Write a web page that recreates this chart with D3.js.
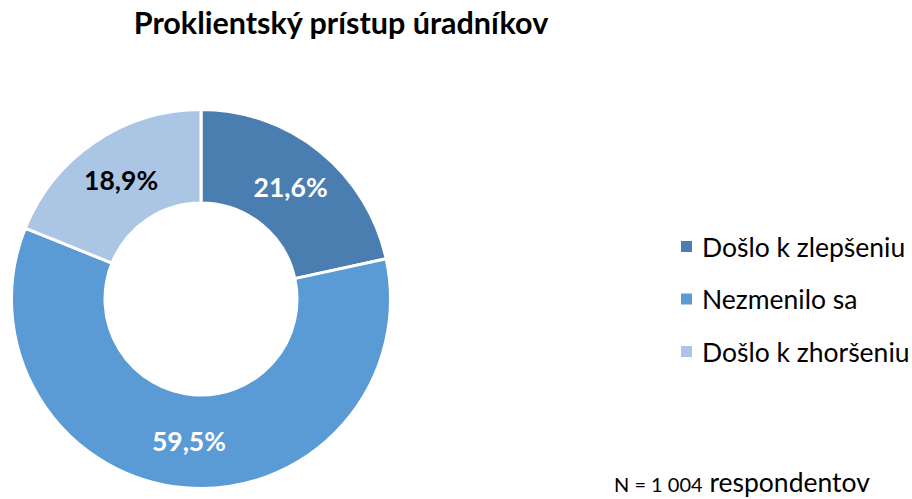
<!DOCTYPE html>
<html>
<head>
<meta charset="utf-8">
<script src="https://cdn.jsdelivr.net/npm/d3@7"></script>
<style>
  body { margin: 0; background: #fff; }
  text { font-family: Lato, "Open Sans", sans-serif; }
</style>
</head>
<body>
<div class="chart"></div>
<script>
// data
const categories = ["Došlo k zlepšeniu", "Nezmenilo sa", "Došlo k zhoršeniu"];
const values = [21.6, 59.5, 18.9];
const colors = ["#4a7eb0", "#5b9bd5", "#abc5e5"];
const labelColors = ["#ffffff", "#ffffff", "#000000"];
const title = "Proklientský prístup úradníkov";
const note = ["N = 1 004", " respondentov"];

const width = 912, height = 499;
const cx = 201, cy = 299;
const outerR = 189.5, innerR = 96;

const svg = d3.select(".chart")
  .append("svg")
  .attr("width", width)
  .attr("height", height);

// title
svg.append("text")
  .attr("x", 341)
  .attr("y", 34)
  .attr("text-anchor", "middle")
  .attr("font-weight", "bold")
  .attr("font-size", 30.5)
  .attr("fill", "#000")
  .text(title);

const data = categories.map((c, i) => ({name: c, value: values[i], color: colors[i], lc: labelColors[i]}));

const pie = d3.pie().sort(null).value(d => d.value);
const arc = d3.arc().innerRadius(innerR).outerRadius(outerR);

const g = svg.append("g").attr("transform", `translate(${cx},${cy})`);

const arcs = pie(data);

g.selectAll("path")
  .data(arcs)
  .enter()
  .append("path")
  .attr("d", arc)
  .attr("fill", d => d.data.color)
  .attr("stroke", "#fff")
  .attr("stroke-width", 3);

// labels on slices
g.selectAll(".lbl")
  .data(arcs)
  .enter()
  .append("text")
  .attr("class", "lbl")
  .attr("transform", d => `translate(${arc.centroid(d)})`)
  .attr("text-anchor", "middle")
  .attr("dy", "0.36em")
  .attr("font-weight", "bold")
  .attr("font-size", 26.5)
  .attr("fill", d => d.data.lc)
  .text(d => d3.format(".1f")(d.data.value).replace(".", ",") + "%");

// legend
const legend = svg.append("g").attr("transform", "translate(681,247)");
const rows = legend.selectAll("g")
  .data(data)
  .enter()
  .append("g")
  .attr("transform", (d, i) => `translate(0,${i * 52.5})`);

rows.append("rect")
  .attr("x", 0)
  .attr("y", -6)
  .attr("width", 11)
  .attr("height", 11)
  .attr("fill", d => d.color);

rows.append("text")
  .attr("x", 21)
  .attr("y", 0)
  .attr("dy", "0.36em")
  .attr("font-size", 26.5)
  .attr("fill", "#000")
  .text(d => d.name);

// footnote
const foot = svg.append("text")
  .attr("x", 614)
  .attr("y", 492)
  .attr("fill", "#000");
foot.append("tspan").attr("font-size", 20).text(note[0]);
foot.append("tspan").attr("font-size", 26.5).text(note[1]);
</script>
</body>
</html>
